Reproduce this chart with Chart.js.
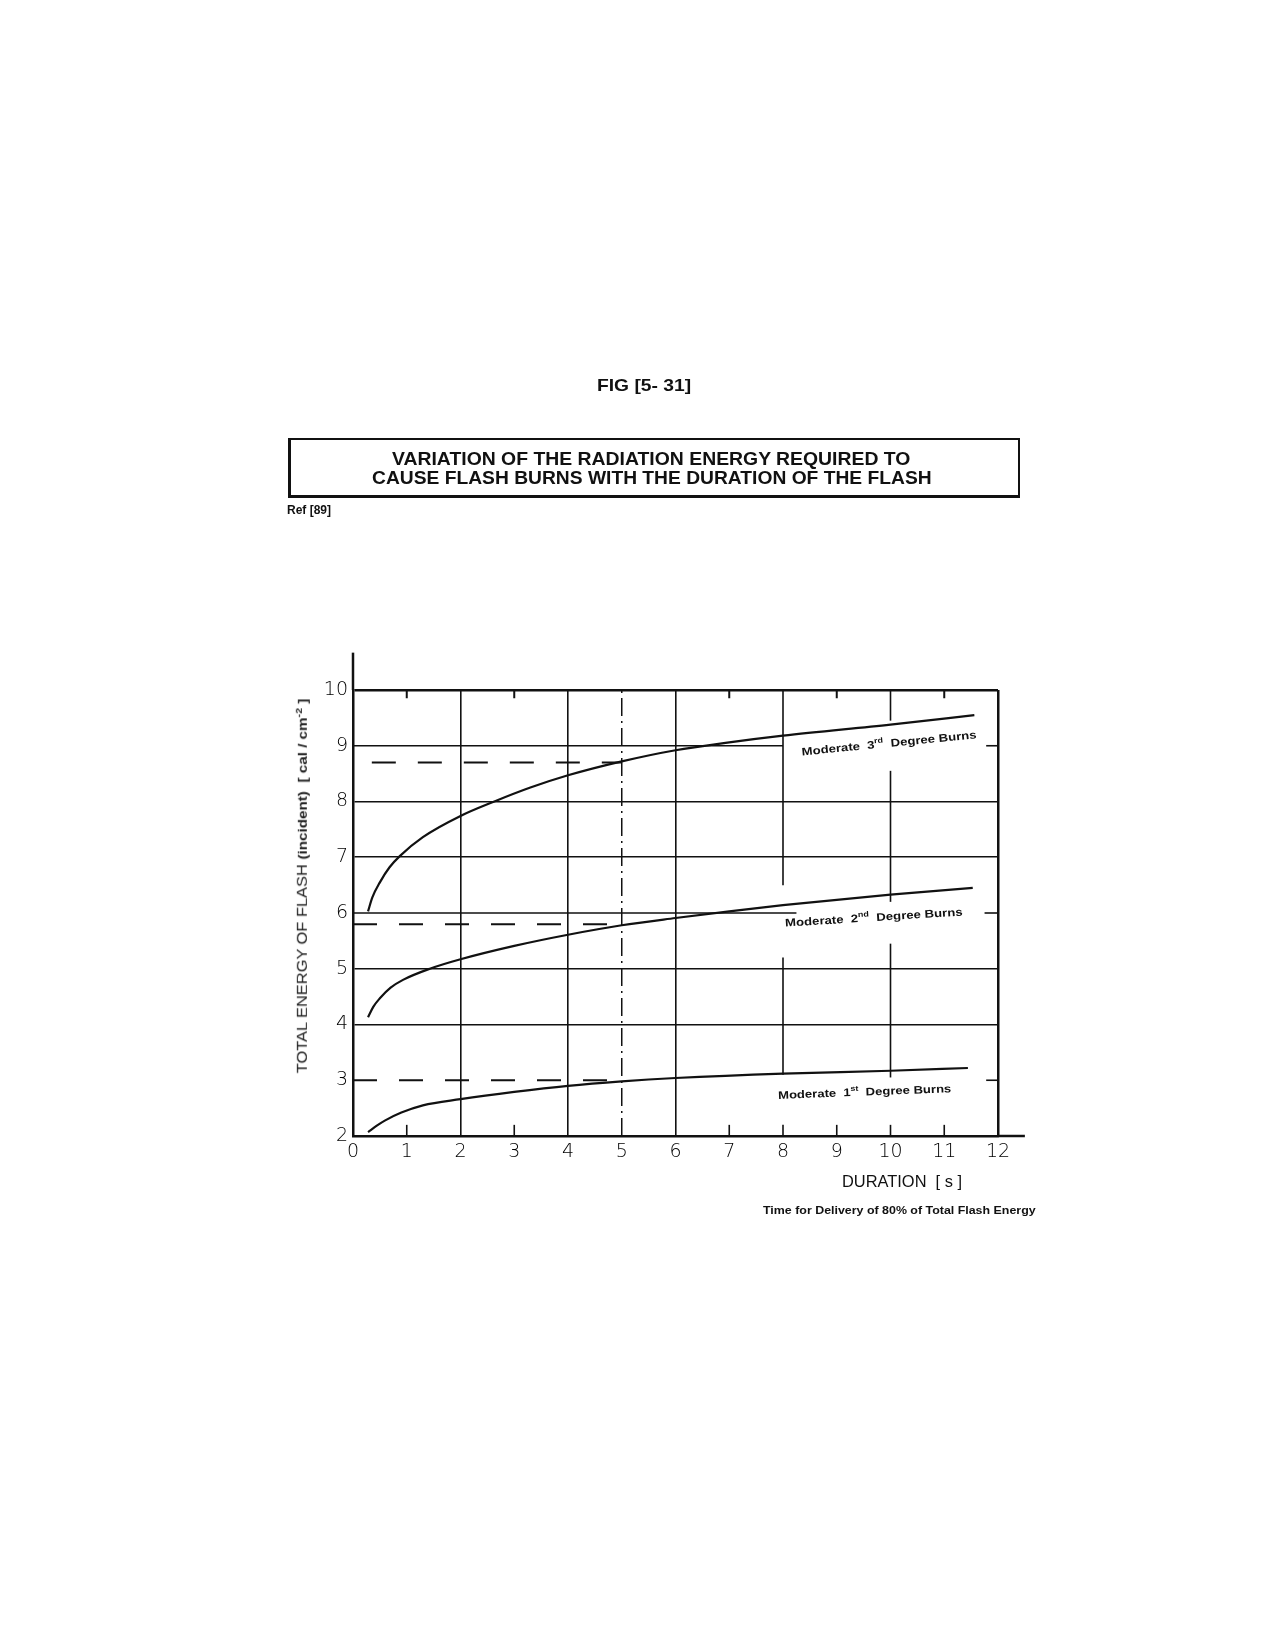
<!DOCTYPE html>
<html>
<head>
<meta charset="utf-8">
<script src="https://cdn.jsdelivr.net/npm/chart.js@4.4.1/dist/chart.umd.min.js"></script>
<style>
  body { margin: 0; background: #fff; }
  #page { position: relative; width: 1275px; height: 1650px; overflow: hidden; }
  #wrap { position: absolute; left: 0; top: 0; width: 1275px; height: 1650px; }
  .txt { position: absolute; white-space: nowrap; color: #111; transform-origin: 0 50%; line-height: 1; }
  .narrow { font-family: "Liberation Sans Narrow", "Liberation Sans", Arial, sans-serif; font-weight: bold; }
  .sans { font-family: "Liberation Sans", Arial, sans-serif; }
  #box { position: absolute; left: 288px; top: 438px; width: 727px; height: 55px;
         border: 2px solid #111; border-bottom-width: 3px; border-left-width: 3px; }
  #ytitle { position: absolute; left: 302px; top: 886px; white-space: nowrap; color: #222; line-height: 1;
            font-family: "Liberation Sans", Arial, sans-serif; font-size: 14px; }
  #ytitle b { font-size: 13px; }
</style>
</head>
<body>
<div id="page">
  <div id="wrap"><canvas id="myChart"></canvas></div>
  <div class="txt narrow" data-w="94" style="left:597px; top:377px; font-size:17px;">FIG [5- 31]</div>
  <div id="box"></div>
  <div class="txt narrow" data-w="518" style="left:392px; top:450px; font-size:18px;">VARIATION OF THE RADIATION ENERGY REQUIRED TO</div>
  <div class="txt narrow" data-w="560" style="left:372px; top:469px; font-size:18px;">CAUSE FLASH BURNS WITH THE DURATION OF THE FLASH</div>
  <div class="txt narrow" data-w="44" style="left:287px; top:504px; font-size:12px;">Ref [89]</div>
  <div class="txt sans" data-w="120" style="left:842px; top:1174px; font-size:16px;">DURATION&nbsp; [ s ]</div>
  <div class="txt sans" data-w="273" style="left:763px; top:1205px; font-size:11px; font-weight:bold;">Time for Delivery of 80% of Total Flash Energy</div>
  <div id="ytitle">TOTAL ENERGY OF FLASH <b>(incident)&nbsp; [ cal / cm<sup style="font-size:9px">-2</sup> ]</b></div>
</div>
<script>
document.addEventListener('DOMContentLoaded', function() {
    // fit header / footer texts to the widths measured on the scan
    document.querySelectorAll('.txt').forEach(function(el) {
        var w = parseFloat(el.dataset.w);
        el.style.transform = 'scaleX(' + (w / el.offsetWidth) + ')';
    });
    var yt = document.getElementById('ytitle');
    yt.style.transform = 'translate(-50%, -50%) rotate(-90deg) scaleX(' + (375 / yt.offsetWidth) + ')';

    // Data (duration in s, energy in cal/cm2)
    var durTicks = [0, 1, 2, 3, 4, 5, 6, 7, 8, 9, 10, 11, 12];
    var energyTicks = [2, 3, 4, 5, 6, 7, 8, 9, 10];

    var thirdDur    = [0.28, 0.36, 0.5, 0.68, 0.87, 1.3, 2, 2.63, 3.3, 4, 5, 6, 7, 8, 10, 11.56];
    var thirdEnergy = [6.03, 6.28, 6.55, 6.82, 7.02, 7.36, 7.74, 8.0, 8.25, 8.47, 8.72, 8.92, 9.06, 9.18, 9.38, 9.55];

    var secondDur    = [0.28, 0.38, 0.5, 0.7, 0.93, 1.43, 2, 3, 4, 5, 6, 7, 8, 10, 11.53];
    var secondEnergy = [4.13, 4.32, 4.47, 4.66, 4.8, 5.0, 5.17, 5.41, 5.61, 5.78, 5.91, 6.03, 6.14, 6.33, 6.45];

    var firstDur    = [0.28, 0.45, 0.6, 0.9, 1.3, 2, 3, 4, 5, 6, 8, 10, 11.44];
    var firstEnergy = [2.07, 2.19, 2.28, 2.42, 2.55, 2.66, 2.79, 2.9, 2.98, 3.04, 3.12, 3.17, 3.22];

    // dashed reading lines at 5 s
    var readLevels = [8.7, 5.8, 3.0];
    var readStart  = [0.35, 0.0, 0.0];
    var readDur = 5;

    // full grid lines, then partial segments [level, from, to]
    var gridDur = [2, 4, 6, 12];
    var gridEnergy = [4, 5, 7, 8, 10];
    var partialH = [[9, 0, 8], [6, 0, 8.25], [9, 11.78, 12], [6, 11.75, 12], [3, 11.78, 12]];
    var partialV = [[8, 6.5, 10], [8, 3.1, 5.2], [10, 9.45, 10], [10, 6.2, 8.55], [10, 3.05, 5.45]];
    var topTicks = [1, 3, 7, 9, 11];
    var bottomTicks = [1, 3, 7, 8, 9, 10, 11];

    var curveNames = ['3', '2', '1'];
    var curveSup = ['rd', 'nd', 'st'];

    var INK = '#111';

    function pts(xs, ys) {
        return xs.map(function(x, i) { return { x: x, y: ys[i] }; });
    }
    function seg(x1, y1, x2, y2, w, dash, clip) {
        return {
            data: [{ x: x1, y: y1 }, { x: x2, y: y2 }],
            borderColor: INK, borderWidth: w, borderDash: dash || [],
            pointRadius: 0, tension: 0, clip: clip === false ? false : undefined
        };
    }

    var datasets = [];
    partialH.forEach(function(s) { datasets.push(seg(s[1], s[0], s[2], s[0], 1.6)); });
    partialV.forEach(function(s) { datasets.push(seg(s[0], s[1], s[0], s[2], 1.6)); });
    topTicks.forEach(function(t) { datasets.push(seg(t, 10, t, 9.85, 2)); });
    bottomTicks.forEach(function(t) { datasets.push(seg(t, 2, t, 2.2, 1.6)); });
    readLevels.forEach(function(v, i) { datasets.push(seg(readStart[i], v, readDur, v, 2, [24, 22])); });
    datasets.push(seg(readDur, 2, readDur, 10, 1.5, [18, 5, 2, 5]));
    // axis lines running past the frame
    datasets.push(seg(12, 2, 12.5, 2, 2.5, null, false));
    datasets.push(seg(0, 10, 0, 10.67, 2.5, null, false));

    [[thirdDur, thirdEnergy], [secondDur, secondEnergy], [firstDur, firstEnergy]].forEach(function(c) {
        datasets.push({
            data: pts(c[0], c[1]), borderColor: INK, borderWidth: 2.2,
            pointRadius: 0, cubicInterpolationMode: 'monotone'
        });
    });

    // curve labels: [start dur, start energy, end dur, end energy]
    var labelPos = [[8.35, 8.88, 11.6, 9.19], [8.04, 5.81, 11.34, 6.01], [7.91, 2.72, 11.13, 2.84]];

    var curveLabels = {
        id: 'curveLabels',
        afterDatasetsDraw: function(chart) {
            var ctx = chart.ctx, xs = chart.scales.x, ys = chart.scales.y;
            labelPos.forEach(function(p, i) {
                var x1 = xs.getPixelForValue(p[0]), y1 = ys.getPixelForValue(p[1]);
                var x2 = xs.getPixelForValue(p[2]), y2 = ys.getPixelForValue(p[3]);
                var len = Math.hypot(x2 - x1, y2 - y1);
                var parts = [['Moderate  ' + curveNames[i], 11, 0], [curveSup[i], 7.5, -4], ['  Degree Burns', 11, 0]];
                ctx.save();
                ctx.fillStyle = INK;
                ctx.textBaseline = 'middle';
                var w = 0;
                parts.forEach(function(q) {
                    ctx.font = 'bold ' + q[1] + 'px "Liberation Sans", Arial, sans-serif';
                    w += ctx.measureText(q[0]).width;
                });
                ctx.translate(x1, y1);
                ctx.rotate(Math.atan2(y2 - y1, x2 - x1));
                ctx.scale(len / w, 1);
                var cx = 0;
                parts.forEach(function(q) {
                    ctx.font = 'bold ' + q[1] + 'px "Liberation Sans", Arial, sans-serif';
                    ctx.fillText(q[0], cx, q[2]);
                    cx += ctx.measureText(q[0]).width;
                });
                ctx.restore();
            });
        }
    };

    var ctx = document.getElementById('myChart').getContext('2d');
    var myChart = new Chart(ctx, {
        type: 'line',
        data: { datasets: datasets },
        options: {
            responsive: true,
            maintainAspectRatio: false,
            animation: false,
            events: [],
            layout: { padding: { left: 290, right: 277, top: 690, bottom: 474 } },
            plugins: { legend: { display: false }, tooltip: { enabled: false } },
            scales: {
                x: {
                    type: 'linear', min: 0, max: 12,
                    afterBuildTicks: function(s) { s.ticks = durTicks.map(function(v) { return { value: v }; }); },
                    afterFit: function(s) { s.height = 40; },
                    border: { display: true, color: INK, width: 2.5 },
                    grid: {
                        drawTicks: false,
                        lineWidth: function(c) { return c.tick && c.tick.value === 12 ? 2.5 : 1.6; },
                        color: function(c) { return c.tick && gridDur.indexOf(c.tick.value) >= 0 ? INK : 'rgba(0,0,0,0)'; }
                    },
                    ticks: {
                        padding: 5, color: '#000', maxRotation: 0, autoSkip: false,
                        font: { family: '"DejaVu Sans", sans-serif', size: 19, weight: 200 }
                    }
                },
                y: {
                    type: 'linear', min: 2, max: 10,
                    afterBuildTicks: function(s) { s.ticks = energyTicks.map(function(v) { return { value: v }; }); },
                    afterFit: function(s) { s.width = 63; },
                    border: { display: true, color: INK, width: 2.5 },
                    grid: {
                        drawTicks: false,
                        lineWidth: function(c) { return c.tick && c.tick.value === 10 ? 2.5 : 1.6; },
                        color: function(c) { return c.tick && gridEnergy.indexOf(c.tick.value) >= 0 ? INK : 'rgba(0,0,0,0)'; }
                    },
                    ticks: {
                        padding: 5, color: '#000',
                        font: { family: '"DejaVu Sans", sans-serif', size: 19, weight: 200 }
                    }
                }
            }
        },
        plugins: [curveLabels]
    });
});
</script>
</body>
</html>
